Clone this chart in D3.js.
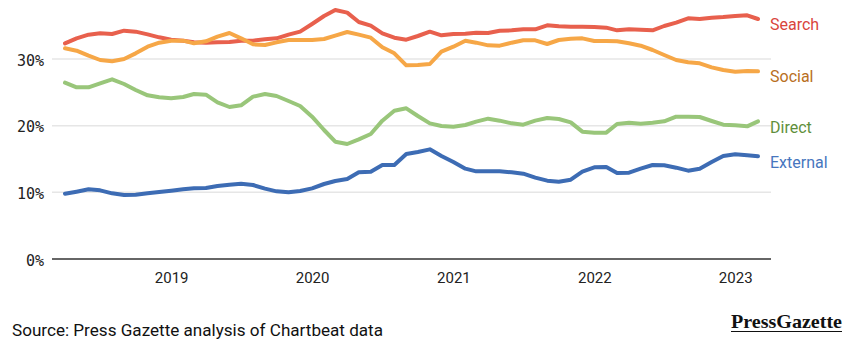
<!DOCTYPE html>
<html>
<head>
<meta charset="utf-8">
<script src="https://cdn.jsdelivr.net/npm/d3@7"></script>
<style>
    body { margin: 0; background: #fff; }
    text { font-family: Roboto, "Noto Sans", sans-serif; }
</style>
</head>
<body>
<div id="chart"></div>
<script>
// Monthly share of traffic, April 2018 to March 2023
var startMonth = new Date(2018, 3, 1);
var monthCount = 60;

var search = [32.35, 33.1, 33.65, 33.85, 33.75, 34.25, 34.1, 33.7, 33.25, 32.9, 32.75, 32.5,
    32.45, 32.5, 32.55, 32.75, 32.75, 32.95, 33.1, 33.65, 34.1, 35.25, 36.45, 37.35,
    36.95, 35.55, 35.0, 33.85, 33.2, 32.9, 33.45, 34.1, 33.55, 33.75, 33.8, 33.95,
    33.9, 34.25, 34.3, 34.45, 34.45, 35.05, 34.9, 34.85, 34.85, 34.8, 34.7, 34.3,
    34.45, 34.4, 34.3, 34.95, 35.45, 36.1, 36.0, 36.2, 36.3, 36.45, 36.55, 36.0];

var social = [31.6, 31.25, 30.5, 29.85, 29.65, 30.0, 30.85, 31.85, 32.45, 32.75, 32.75, 32.35,
    32.65, 33.35, 33.9, 33.1, 32.2, 32.1, 32.5, 32.85, 32.85, 32.85, 33.0, 33.5,
    34.05, 33.65, 33.2, 31.75, 30.85, 29.05, 29.1, 29.25, 31.1, 31.85, 32.75, 32.45,
    32.05, 32.0, 32.45, 32.8, 32.8, 32.25, 32.85, 33.05, 33.1, 32.7, 32.7, 32.65,
    32.35, 32.0, 31.35, 30.6, 29.85, 29.5, 29.35, 28.75, 28.35, 28.1, 28.2, 28.15];

var direct = [26.45, 25.75, 25.75, 26.35, 26.95, 26.25, 25.35, 24.55, 24.25, 24.1, 24.3, 24.75,
    24.65, 23.5, 22.8, 23.05, 24.35, 24.75, 24.45, 23.7, 22.95, 21.35, 19.35, 17.6,
    17.25, 17.95, 18.75, 20.75, 22.25, 22.6, 21.45, 20.35, 19.95, 19.85, 20.1, 20.6,
    21.05, 20.75, 20.35, 20.15, 20.75, 21.15, 21.0, 20.5, 19.1, 18.95, 18.95, 20.25,
    20.45, 20.3, 20.45, 20.65, 21.35, 21.35, 21.3, 20.7, 20.15, 20.05, 19.9, 20.65];

var external = [9.8, 10.1, 10.45, 10.3, 9.85, 9.6, 9.65, 9.85, 10.05, 10.25, 10.45, 10.6,
    10.65, 10.95, 11.15, 11.3, 11.1, 10.55, 10.15, 10.0, 10.2, 10.6, 11.25, 11.7,
    12.0, 13.0, 13.1, 14.1, 14.1, 15.75, 16.05, 16.45, 15.45, 14.55, 13.55, 13.15,
    13.15, 13.15, 13.0, 12.8, 12.2, 11.75, 11.6, 11.9, 13.1, 13.75, 13.8, 12.9,
    12.95, 13.55, 14.1, 14.05, 13.7, 13.25, 13.55, 14.55, 15.45, 15.7, 15.55, 15.4];

var seriesNames = ["Search", "Social", "Direct", "External"];
var yTicks = [0, 10, 20, 30];
var xTickYears = [2019, 2020, 2021, 2022, 2023];
var sourceText = "Source: Press Gazette analysis of Chartbeat data";

// Colours for lines and end labels
var lineColours = { Search: "#e8604d", Social: "#f6a747", Direct: "#99c67a", External: "#3d6cb4" };
var labelColours = { Search: "#d9453c", Social: "#b96f22", Direct: "#5f8f3c", External: "#4776be" };

var width = 848, height = 346;

// Build one month per value
var months = d3.range(monthCount).map(function(i) {
    return d3.timeMonth.offset(startMonth, i);
});

var series = [
    { name: "Search", values: search },
    { name: "Social", values: social },
    { name: "Direct", values: direct },
    { name: "External", values: external }
];

var svg = d3.select("#chart")
    .append("svg")
    .attr("width", width)
    .attr("height", height);

// Scales
var x = d3.scaleTime()
    .domain([months[0], months[monthCount - 1]])
    .range([65, 758]);

var y = d3.scaleLinear()
    .domain([0, 30])
    .range([259, 59]);

var gridLeft = 52, gridRight = 771;

// Gridlines
svg.append("g")
    .selectAll("line")
    .data(yTicks.filter(function(d) { return d > 0; }))
    .enter().append("line")
    .attr("x1", gridLeft)
    .attr("x2", gridRight)
    .attr("y1", function(d) { return y(d); })
    .attr("y2", function(d) { return y(d); })
    .attr("stroke", "#e6e6e6")
    .attr("stroke-width", 1.5);

// Y axis labels
var yAxis = svg.append("g")
    .attr("transform", "translate(" + gridLeft + ",0)")
    .call(d3.axisLeft(y).tickValues(yTicks).tickSize(0).tickPadding(8)
        .tickFormat(function(d) { return d + "%"; }));
yAxis.select(".domain").remove();
yAxis.selectAll("text")
    .attr("font-size", 15)
    .attr("fill", "#222")
    .style("font-family", "'DejaVu Sans Mono', monospace")
    .attr("dy", "0.4em");

// X axis
var xAxis = svg.append("g")
    .attr("transform", "translate(0," + y(0) + ")")
    .call(d3.axisBottom(x)
        .tickValues(xTickYears.map(function(yr) { return new Date(yr, 0, 1); }))
        .tickSize(0).tickPadding(13)
        .tickFormat(d3.timeFormat("%Y")));
xAxis.select(".domain").remove();
xAxis.selectAll("text")
    .attr("font-size", 15)
    .attr("fill", "#222");

// Baseline at 0%
svg.append("line")
    .attr("x1", gridLeft)
    .attr("x2", gridRight)
    .attr("y1", y(0))
    .attr("y2", y(0))
    .attr("stroke", "#333")
    .attr("stroke-width", 1.3);

// Lines
var line = d3.line()
    .x(function(d, i) { return x(months[i]); })
    .y(function(d) { return y(d); });

svg.append("g")
    .selectAll("path")
    .data(series)
    .enter().append("path")
    .attr("d", function(d) { return line(d.values); })
    .attr("fill", "none")
    .attr("stroke", function(d) { return lineColours[d.name]; })
    .attr("stroke-width", 4)
    .attr("stroke-linejoin", "round")
    .attr("stroke-linecap", "round");

// End labels sit a little below each line's last point
var labelNudge = { Search: 5, Social: 5.5, Direct: 6, External: 6 };
svg.append("g")
    .selectAll("text")
    .data(series)
    .enter().append("text")
    .attr("x", 770)
    .attr("y", function(d) { return y(d.values[d.values.length - 1]) + labelNudge[d.name]; })
    .attr("dy", "0.35em")
    .attr("font-size", 16)
    .attr("fill", function(d) { return labelColours[d.name]; })
    .text(function(d) { return d.name; });

// Source note
svg.append("text")
    .attr("x", 12)
    .attr("y", 336)
    .attr("font-size", 16)
    .attr("fill", "#111")
    .attr("textLength", 371)
    .attr("lengthAdjust", "spacingAndGlyphs")
    .text(sourceText);

// Logo
svg.append("text")
    .attr("x", 731)
    .attr("y", 328)
    .attr("font-size", 19)
    .attr("font-weight", "bold")
    .attr("fill", "#111")
    .style("font-family", "'Liberation Serif', 'DejaVu Serif', serif")
    .attr("textLength", 111)
    .attr("lengthAdjust", "spacingAndGlyphs")
    .text("PressGazette");
svg.append("line")
    .attr("x1", 731)
    .attr("x2", 842)
    .attr("y1", 331.5)
    .attr("y2", 331.5)
    .attr("stroke", "#111")
    .attr("stroke-width", 1);
</script>
</body>
</html>
